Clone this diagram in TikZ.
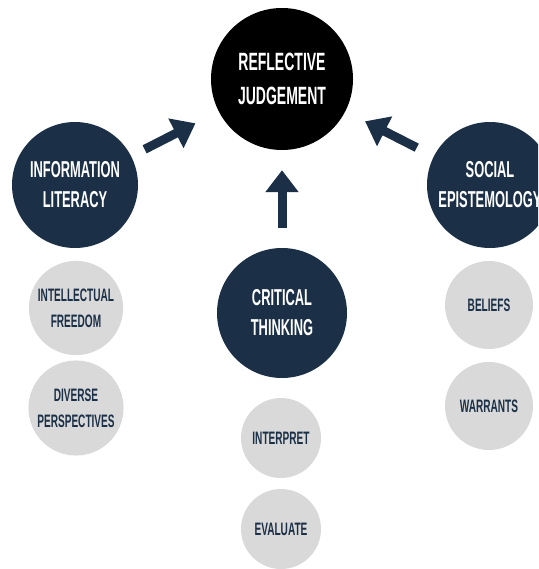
\documentclass[tikz,border=0pt]{standalone}
\usepackage{fontspec}
\usetikzlibrary{arrows.meta}
\newfontfamily\condfont[FakeStretch=0.56]{Liberation Sans Bold}
\definecolor{navy}{HTML}{1B3047}
\definecolor{lightgrey}{HTML}{D9D9D9}

\begin{document}
\begin{tikzpicture}[x=1pt,y=-1pt,
    topic/.style={circle, fill=navy, text=white, align=center, minimum size=126pt,
        font=\condfont\fontsize{23}{30}\selectfont},
    goal/.style={circle, fill=black, text=white, align=center, minimum size=142pt,
        font=\condfont\fontsize{25}{34}\selectfont},
    sub/.style={circle, fill=lightgrey, text=navy, align=center, minimum size=88pt,
        font=\condfont\fontsize{18}{26}\selectfont},
    bigarrow/.style={draw=navy, line width=9pt, -{Triangle[length=22pt,width=32pt]}}]
   \clip (0,0) rectangle (538,569);

   % centre
   \node[goal] (refl) at (282,79) {REFLECTIVE\\JUDGEMENT};

   % three main areas
   \node[topic] (lit) at (75,185) {INFORMATION\\LITERACY};
   \node[topic, minimum size=130pt] (crit) at (282,313) {CRITICAL\\THINKING};
   \node[topic] (soc) at (490,185) {SOCIAL\\EPISTEMOLOGY};

   \path[bigarrow, shorten <=15pt, shorten >=26pt] (lit) to (refl);
   \path[bigarrow, shorten <=20pt, shorten >=20pt] (crit) to (refl);
   \path[bigarrow, shorten <=19pt, shorten >=22pt] (soc) to (refl);

   % sub topics
   \node[sub, minimum size=90pt] (free) at (76,308) {INTELLECTUAL\\FREEDOM};
   \node[sub] (div) at (76,408) {DIVERSE\\PERSPECTIVES};

   \node[sub, minimum size=80pt] (interp) at (281,438) {INTERPRET};
   \node[sub, minimum size=80pt] (eval) at (281,529) {EVALUATE};

   \node[sub] (bel) at (489,305) {BELIEFS};
   \node[sub] (war) at (489,406) {WARRANTS};

\end{tikzpicture}
\end{document}
